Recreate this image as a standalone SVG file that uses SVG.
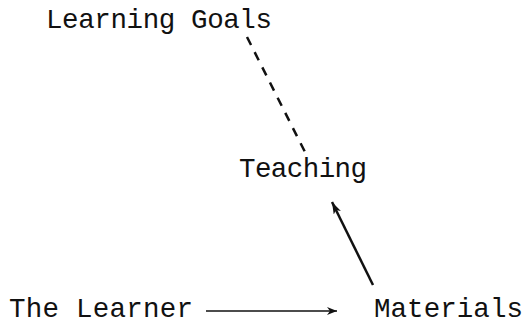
<svg xmlns="http://www.w3.org/2000/svg" width="523" height="324" viewBox="0 0 523 324">
  <style>
    .lbl { font-family: "Liberation Mono", "Courier New", monospace; font-size: 27.5px; fill: #111; }
    .solid { stroke: #111; fill: none; }
  </style>
  <defs>
    <marker id="ah" viewBox="0 0 10 8" refX="10" refY="4" markerWidth="10" markerHeight="8" markerUnits="userSpaceOnUse" orient="auto">
      <path d="M0,0 L10,4 L0,8 L3,4 Z" fill="#111"/>
    </marker>
    <marker id="ah2" viewBox="0 0 12 8" refX="12" refY="4" markerWidth="12" markerHeight="8" markerUnits="userSpaceOnUse" orient="auto">
      <path d="M0,0 L12,4 L0,8 L3,4 Z" fill="#111"/>
    </marker>
  </defs>
  <rect width="523" height="324" fill="#fff"/>
  <g id="goals"><text class="lbl" x="46" y="28" textLength="226">Learning Goals</text></g>
  <g id="teaching"><text class="lbl" x="239" y="177" textLength="128">Teaching</text></g>
  <g id="learner"><text class="lbl" x="9" y="317" textLength="184">The Learner</text></g>
  <g id="materials"><text class="lbl" x="374" y="317" textLength="149">Materials</text></g>
  <g id="connectors">
    <line x1="247" y1="37" x2="308" y2="158" stroke="#111" stroke-width="2.5" stroke-dasharray="9 8"/>
    <line class="solid" x1="373" y1="285" x2="332" y2="202" stroke-width="2.5" marker-end="url(#ah2)"/>
    <line class="solid" x1="206" y1="311" x2="337" y2="311" stroke-width="1.5" marker-end="url(#ah)"/>
  </g>
</svg>
